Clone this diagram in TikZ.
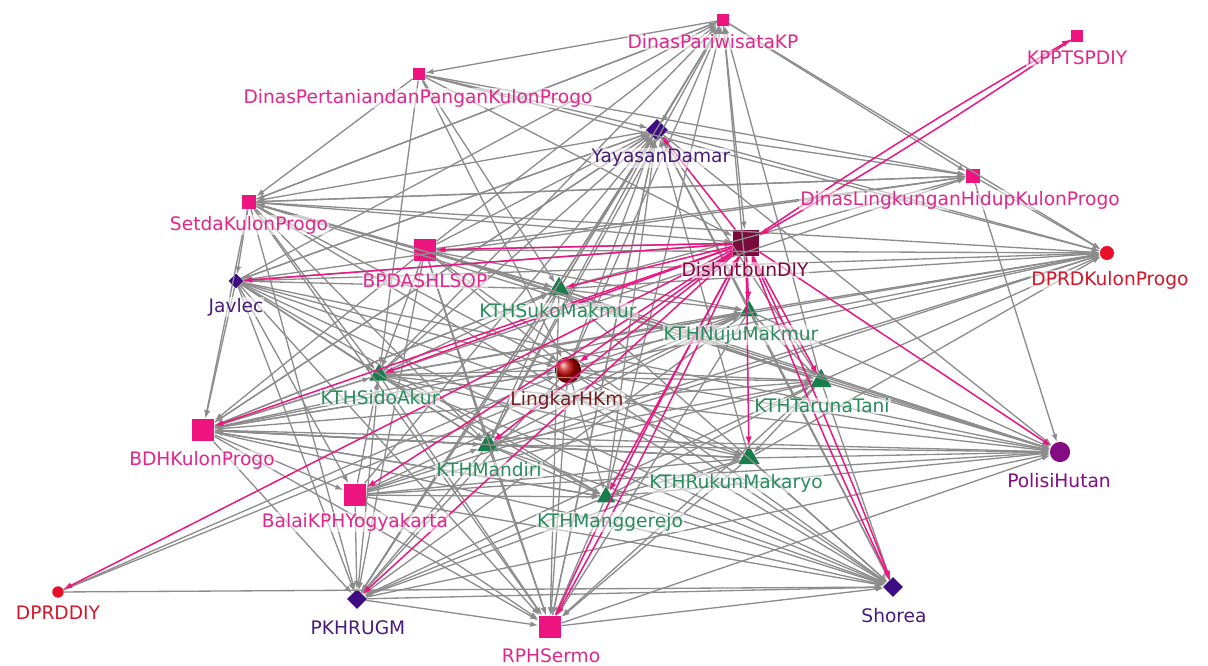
\documentclass[tikz,border=0pt]{standalone}
\usepackage{fontspec}
\setmainfont{DejaVu Sans}
\usetikzlibrary{arrows.meta,shapes.geometric}
\definecolor{pinkc}{RGB}{238,20,128}
\definecolor{pinkt}{RGB}{226,38,140}
\definecolor{indigoc}{RGB}{62,12,130}
\definecolor{indigot}{RGB}{72,28,122}
\definecolor{greenc}{RGB}{22,125,75}
\definecolor{greent}{RGB}{40,140,92}
\definecolor{redc}{RGB}{232,16,40}
\definecolor{redt}{RGB}{212,22,42}
\definecolor{maroonc}{RGB}{122,10,60}
\definecolor{plumc}{RGB}{132,12,130}
\definecolor{brownt}{RGB}{112,32,32}
\definecolor{edgegray}{RGB}{140,140,140}
\definecolor{edgepink}{RGB}{236,22,130}

\begin{document}
\begin{tikzpicture}[x=0.02cm,y=-0.02cm,
    sq/.style={rectangle,fill=pinkc,inner sep=0pt,minimum size=#1},
    dm/.style={diamond,fill=indigoc,inner sep=0pt,minimum size=#1},
    tri/.style={regular polygon,regular polygon sides=3,fill=greenc,inner sep=0pt,minimum size=#1},
    dot/.style={circle,fill=redc,inner sep=0pt,minimum size=#1},
    lbl/.style={font=\fontsize{10.6}{12}\selectfont,inner sep=0.6pt,fill=white,fill opacity=0.55,text opacity=1},
    gedge/.style={draw=edgegray,line width=0.75pt,-{Latex[length=4.5pt,width=3.2pt]}},
    pedge/.style={draw=edgepink,line width=0.85pt,-{Latex[length=5pt,width=3.6pt]}}]
    \path[use as bounding box,fill=white] (0,0) rectangle (1208,666);
    % actors
    \node[sq=6.5pt] (par) at (723,20) {};
    \node[sq=6.5pt] (kpp) at (1077,36) {};
    \node[sq=7pt] (tan) at (419,74) {};
    \node[dm=12.5pt] (yay) at (657,130) {};
    \node[sq=8pt] (dlh) at (973,176) {};
    \node[sq=8pt] (set) at (249,202) {};
    \node[sq=15pt,fill=maroonc] (dis) at (746,243) {};
    \node[dot=8pt] (dkp) at (1107,253) {};
    \node[sq=12.5pt] (bpd) at (425,250) {};
    \node[dm=8.5pt] (jav) at (236,281) {};
    \node[tri=14pt] (suk) at (559,289) {};
    \node[tri=12pt] (nuj) at (749,311) {};
    \node[circle,ball color=red!75!black,inner sep=0pt,minimum size=15pt] (lin) at (568,370) {};
    \node[tri=13pt] (sid) at (379,375) {};
    \node[tri=14pt] (tar) at (821,381) {};
    \node[sq=13pt] (bdh) at (203,430) {};
    \node[tri=14pt] (man) at (488,445) {};
    \node[dot=11.5pt,fill=plumc] (pol) at (1060,452) {};
    \node[tri=14pt] (ruk) at (749,458) {};
    \node[sq=13pt] (bal) at (355,495) {};
    \node[tri=12pt] (mgr) at (606,497) {};
    \node[dot=6.5pt] (ddi) at (58,592) {};
    \node[dm=11.5pt] (pkh) at (357,599) {};
    \node[dm=11.5pt] (sho) at (893,587) {};
    \node[sq=13pt] (rph) at (550,627) {};
    % grey ties
    \foreach \a/\b in {set/pol,bpd/pol,jav/pol,suk/pol,nuj/pol,lin/pol,sid/pol,tar/pol,bdh/pol,man/pol,ruk/pol,bal/pol,mgr/pol,rph/pol,yay/pol,dlh/pol,pkh/pol,
        set/dkp,yay/dkp,dlh/dkp,tan/dkp,bpd/dkp,jav/dkp,suk/dkp,nuj/dkp,sid/dkp,tar/dkp,par/dkp,bdh/dkp,man/dkp,bal/dkp,lin/dkp,ruk/dkp,
        sid/sho,lin/sho,man/sho,mgr/sho,ruk/sho,bal/sho,bdh/sho,tar/sho,nuj/sho,suk/sho,ddi/sho,pkh/sho,jav/sho,bpd/sho,yay/sho,rph/sho,set/sho,
        bal/rph,sid/rph,man/rph,mgr/rph,bdh/rph,jav/rph,lin/rph,ruk/rph,suk/rph,tar/rph,nuj/rph,yay/rph,set/rph,bpd/rph,pkh/rph,
        bal/pkh,bdh/pkh,jav/pkh,sid/pkh,man/pkh,lin/pkh,mgr/pkh,ruk/pkh,suk/pkh,bpd/pkh,yay/pkh,set/pkh,tar/pkh,nuj/pkh,
        jav/bdh,set/bdh,bpd/bdh,sid/bdh,lin/bdh,man/bdh,suk/bdh,nuj/bdh,tar/bdh,ruk/bdh,yay/bdh,mgr/bdh,
        tan/set,par/set,yay/set,bpd/set,suk/set,dlh/set,set/jav,yay/jav,
        suk/yay,nuj/yay,lin/yay,sid/yay,man/yay,ruk/yay,mgr/yay,tar/yay,bal/yay,bdh/yay,rph/yay,bpd/yay,jav/yay,tan/yay,pkh/yay,par/yay,
        par/dlh,tan/dlh,yay/dlh,set/dlh,jav/dlh,bpd/dlh,suk/dlh,sid/dlh,par/tan,
        set/par,suk/par,sid/par,lin/par,man/par,jav/par,bpd/par,nuj/par,mgr/par,tar/par,
        tan/suk,tan/sid,tan/lin,set/suk,set/sid,set/lin,set/man,
        sid/suk,sid/lin,sid/man,man/mgr,man/ruk,suk/nuj,nuj/tar,tar/ruk,ruk/mgr,lin/ruk,lin/mgr,sid/mgr,suk/man,
        bal/man,bal/mgr,bal/sid,bal/ruk,bdh/sid,bdh/man,bdh/lin,bdh/suk,bpd/sid,bpd/suk,bpd/lin,bpd/man,bpd/nuj,bpd/tar,
        jav/sid,jav/man,jav/suk,jav/lin,jav/bal,bdh/bal,lin/tar,lin/nuj,suk/tar,man/tar,sid/ruk,bdh/ruk,bdh/mgr,
        bal/tar,bal/nuj,mgr/tar,sid/nuj,sid/tar,man/nuj,jav/ruk,jav/mgr,ddi/lin,ddi/nuj,
        set/dis,bpd/dis,jav/dis,tan/dis,par/dis}
        \draw[gedge] (\a) -- (\b);
    % ties of DishutbunDIY
    \foreach \b in {yay,bpd,jav,suk,nuj,sid,bdh,lin,man,bal,ddi,pkh,mgr,ruk,tar,pol}
        \draw[pedge] (dis) -- (\b);
    \foreach \b in {kpp,sho,rph}
        {\draw[pedge] (dis) to[bend left=2] (\b);
         \draw[pedge] (\b) to[bend left=2] (dis);}
    % labels
    \node[lbl,text=pinkt] (par-t) at (713,42) {DinasPariwisataKP};
    \node[lbl,text=pinkt] (kpp-t) at (1077,58) {KPPTSPDIY};
    \node[lbl,text=pinkt] (tan-t) at (418,98) {DinasPertaniandanPanganKulonProgo};
    \node[lbl,text=indigot] (yay-t) at (661,158) {YayasanDamar};
    \node[lbl,text=pinkt] (dlh-t) at (960,200) {DinasLingkunganHidupKulonProgo};
    \node[lbl,text=pinkt] (set-t) at (249,225) {SetdaKulonProgo};
    \node[lbl,text=maroonc] (dis-t) at (745,270) {DishutbunDIY};
    \node[lbl,text=redt] (dkp-t) at (1110,280) {DPRDKulonProgo};
    \node[lbl,text=pinkt] (bpd-t) at (425,281) {BPDASHLSOP};
    \node[lbl,text=indigot] (jav-t) at (236,307) {Javlec};
    \node[lbl,text=greent] (suk-t) at (558,311) {KTHSukoMakmur};
    \node[lbl,text=greent] (nuj-t) at (741,335) {KTHNujuMakmur};
    \node[lbl,text=brownt] (lin-t) at (567,400) {LingkarHKm};
    \node[lbl,text=greent] (sid-t) at (380,398) {KTHSidoAkur};
    \node[lbl,text=greent] (tar-t) at (822,406) {KTHTarunaTani};
    \node[lbl,text=pinkt] (bdh-t) at (202,460) {BDHKulonProgo};
    \node[lbl,text=greent] (man-t) at (489,470) {KTHMandiri};
    \node[lbl,text=plumc] (pol-t) at (1059,481) {PolisiHutan};
    \node[lbl,text=greent] (ruk-t) at (736,483) {KTHRukunMakaryo};
    \node[lbl,text=pinkt] (bal-t) at (355,522) {BalaiKPHYogyakarta};
    \node[lbl,text=greent] (mgr-t) at (610,522) {KTHManggerejo};
    \node[lbl,text=redt] (ddi-t) at (58,613) {DPRDDIY};
    \node[lbl,text=indigot] (pkh-t) at (358,628) {PKHRUGM};
    \node[lbl,text=indigot] (sho-t) at (894,616) {Shorea};
    \node[lbl,text=pinkt] (rph-t) at (551,656) {RPHSermo};
\end{tikzpicture}
\end{document}
